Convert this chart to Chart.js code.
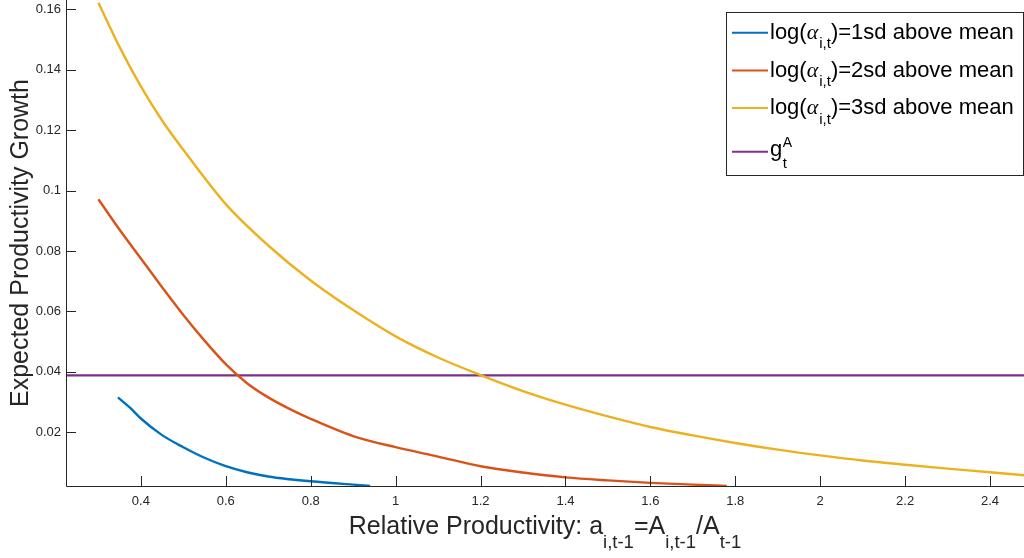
<!DOCTYPE html>
<html>
<head>
<meta charset="utf-8">
<script src="https://cdn.jsdelivr.net/npm/chart.js@4/dist/chart.umd.min.js"></script>
<style>
  html, body { margin: 0; padding: 0; background: #fff; }
  #wrap { width: 1024px; height: 558px; }
</style>
</head>
<body>
<div id="wrap"><canvas id="growthChart" width="1024" height="558"></canvas></div>
<script>
/* Expected productivity growth vs. relative productivity */

const xTicks = [0.4, 0.6, 0.8, 1, 1.2, 1.4, 1.6, 1.8, 2, 2.2, 2.4];
const yTicks = [0.02, 0.04, 0.06, 0.08, 0.1, 0.12, 0.14, 0.16];
const X_MIN = 0.2237, X_MAX = 2.48;
const Y_MIN = 0.00215, Y_MAX = 0.1631;

// log(alpha) = 1sd above mean
const x1sd = [0.346, 0.375, 0.4, 0.45, 0.5, 0.55, 0.6, 0.65, 0.7, 0.75, 0.8, 0.9, 0.94];
const y1sd = [0.0315, 0.0280, 0.0245, 0.0190, 0.0150, 0.0115, 0.0087, 0.0067, 0.0053, 0.0044, 0.0037,
              0.0026, 0.0022];

// log(alpha) = 2sd above mean
const x2sd = [0.3, 0.35, 0.4, 0.45, 0.5, 0.55, 0.6, 0.65, 0.7, 0.75, 0.8, 0.9, 1.0, 1.1, 1.2, 1.3,
              1.4, 1.5, 1.6, 1.7, 1.78];
const y2sd = [0.0971, 0.0870, 0.0775, 0.0680, 0.0588, 0.0503, 0.0425, 0.0362, 0.0315, 0.0277, 0.0244,
              0.0187, 0.0150, 0.0119, 0.0087, 0.0066, 0.0050, 0.0040, 0.0032, 0.0026, 0.0022];

// log(alpha) = 3sd above mean
const x3sd = [0.3, 0.35, 0.4, 0.45, 0.5, 0.6, 0.7, 0.8, 0.9, 1.0, 1.1, 1.2, 1.3, 1.4, 1.5, 1.6, 1.7,
              1.8, 1.9, 2.0, 2.1, 2.2, 2.3, 2.4, 2.48];
const y3sd = [0.1622, 0.1475, 0.1345, 0.1232, 0.1135, 0.0955, 0.0818, 0.0702, 0.0604, 0.0517, 0.0447,
              0.0389, 0.0336, 0.0291, 0.0252, 0.0217, 0.0189, 0.0164, 0.0142, 0.0123, 0.0106, 0.0092,
              0.0079, 0.0067, 0.0057];

// aggregate growth g_t^A
const gA = 0.0388;

const sdLabels = ['1sd', '2sd', '3sd'];
const colors = ['#0072BD', '#D95319', '#EDB120', '#7E2F8E'];
const INK = '#262626';
const SANS = "'Liberation Sans', Arial, sans-serif";

function pts(xs, ys) { return xs.map((v, i) => ({ x: v, y: ys[i] })); }

function line(data, color) {
  return {
    data, borderColor: color, borderWidth: 2.4, pointRadius: 0,
    cubicInterpolationMode: 'monotone', fill: false, showLine: true
  };
}

// draw a row of text pieces, each with its own font and baseline shift
function runsWidth(ctx, runs) {
  let w = 0;
  runs.forEach(r => { ctx.font = r.font; w += ctx.measureText(r.t).width + (r.gap || 0); });
  return w;
}
function drawRuns(ctx, runs, x, base) {
  runs.forEach(r => {
    ctx.font = r.font;
    ctx.fillText(r.t, x, base + (r.dy || 0));
    x += ctx.measureText(r.t).width + (r.gap || 0);
  });
}

const decorations = {
  id: 'decorations',
  afterDatasetsDraw(chart) {
    const { ctx, chartArea: a, scales: { x, y } } = chart;
    ctx.save();

    // axes with inward ticks
    ctx.strokeStyle = INK;
    ctx.lineWidth = 1;
    ctx.beginPath();
    ctx.moveTo(a.left + 0.5, 0);
    ctx.lineTo(a.left + 0.5, a.bottom + 0.5);
    ctx.lineTo(a.right, a.bottom + 0.5);
    xTicks.forEach(v => {
      const px = Math.round(x.getPixelForValue(v)) + 0.5;
      ctx.moveTo(px, a.bottom);
      ctx.lineTo(px, a.bottom - 10);
    });
    yTicks.forEach(v => {
      const py = Math.round(y.getPixelForValue(v)) + 0.5;
      ctx.moveTo(a.left, py);
      ctx.lineTo(a.left + 10, py);
    });
    ctx.stroke();

    ctx.fillStyle = INK;
    ctx.textBaseline = 'alphabetic';
    ctx.textAlign = 'left';

    // x axis title
    const big = '25px ' + SANS, sub = '18.5px ' + SANS;
    const xRuns = [
      { t: 'Relative Productivity: a', font: big },
      { t: 'i,t-1', font: sub, dy: 14 },
      { t: '=A', font: big },
      { t: 'i,t-1', font: sub, dy: 14 },
      { t: '/A', font: big },
      { t: 't-1', font: sub, dy: 14 }
    ];
    const xw = runsWidth(ctx, xRuns);
    drawRuns(ctx, xRuns, (a.left + a.right) / 2 - xw / 2, 534);

    // y axis title
    ctx.save();
    ctx.translate(28, (a.top + a.bottom) / 2);
    ctx.rotate(-Math.PI / 2);
    ctx.font = big;
    ctx.textAlign = 'center';
    ctx.fillText('Expected Productivity Growth', 0, 0);
    ctx.restore();

    // legend
    ctx.fillStyle = '#fff';
    ctx.fillRect(727, 13, 296, 162);
    ctx.strokeStyle = INK;
    ctx.strokeRect(726.5, 12.5, 297, 163);
    const lf = '22px ' + SANS, ls = '15px ' + SANS;
    const rowY = [32.7, 70.4, 108.1, 151.7];
    ctx.lineWidth = 2;
    rowY.forEach((ly, i) => {
      ctx.strokeStyle = colors[i];
      ctx.beginPath();
      ctx.moveTo(732, ly);
      ctx.lineTo(768, ly);
      ctx.stroke();
    });
    ctx.fillStyle = '#000';
    sdLabels.forEach((s, i) => {
      drawRuns(ctx, [
        { t: 'log(', font: lf },
        { t: 'α', font: "italic 22px 'Liberation Serif', serif", gap: 1 },
        { t: 'i,t', font: ls, dy: 9.3 },
        { t: ')=' + s + ' above mean', font: lf }
      ], 770, rowY[i] + 6.3);
    });
    ctx.font = lf;
    ctx.fillText('g', 770, 155.7);
    const gx = 770 + ctx.measureText('g').width + 0.5;
    ctx.font = '14px ' + SANS;
    ctx.fillText('A', gx, 146.7);
    ctx.font = ls;
    ctx.fillText('t', gx, 168.3);

    ctx.restore();
  }
};

new Chart(document.getElementById('growthChart'), {
  type: 'scatter',
  data: {
    datasets: [
      line(pts(x1sd, y1sd), colors[0]),
      line(pts(x2sd, y2sd), colors[1]),
      line(pts(x3sd, y3sd), colors[2]),
      line([{ x: X_MIN, y: gA }, { x: X_MAX, y: gA }], colors[3])
    ]
  },
  options: {
    responsive: false,
    animation: false,
    layout: { padding: 0 },
    plugins: { legend: { display: false }, tooltip: { enabled: false } },
    scales: {
      x: {
        type: 'linear',
        min: X_MIN,
        max: X_MAX,
        grid: { display: false, drawTicks: false },
        border: { display: false },
        afterBuildTicks: s => { s.ticks = xTicks.map(v => ({ value: v })); },
        afterFit: s => { s.height = 72; s.paddingLeft = 0; s.paddingRight = 0; },
        ticks: {
          padding: 8,
          color: INK,
          maxRotation: 0,
          autoSkip: false,
          font: { family: SANS, size: 13 },
          callback: v => String(+v.toFixed(2))
        }
      },
      y: {
        min: Y_MIN,
        max: Y_MAX,
        grid: { display: false, drawTicks: false },
        border: { display: false },
        afterBuildTicks: s => { s.ticks = yTicks.map(v => ({ value: v })); },
        afterFit: s => { s.width = 66; s.paddingTop = 0; s.paddingBottom = 0; },
        ticks: {
          padding: 5,
          color: INK,
          autoSkip: false,
          font: { family: SANS, size: 13 },
          callback: v => String(+v.toFixed(2))
        }
      }
    }
  },
  plugins: [decorations]
});
</script>
</body>
</html>
